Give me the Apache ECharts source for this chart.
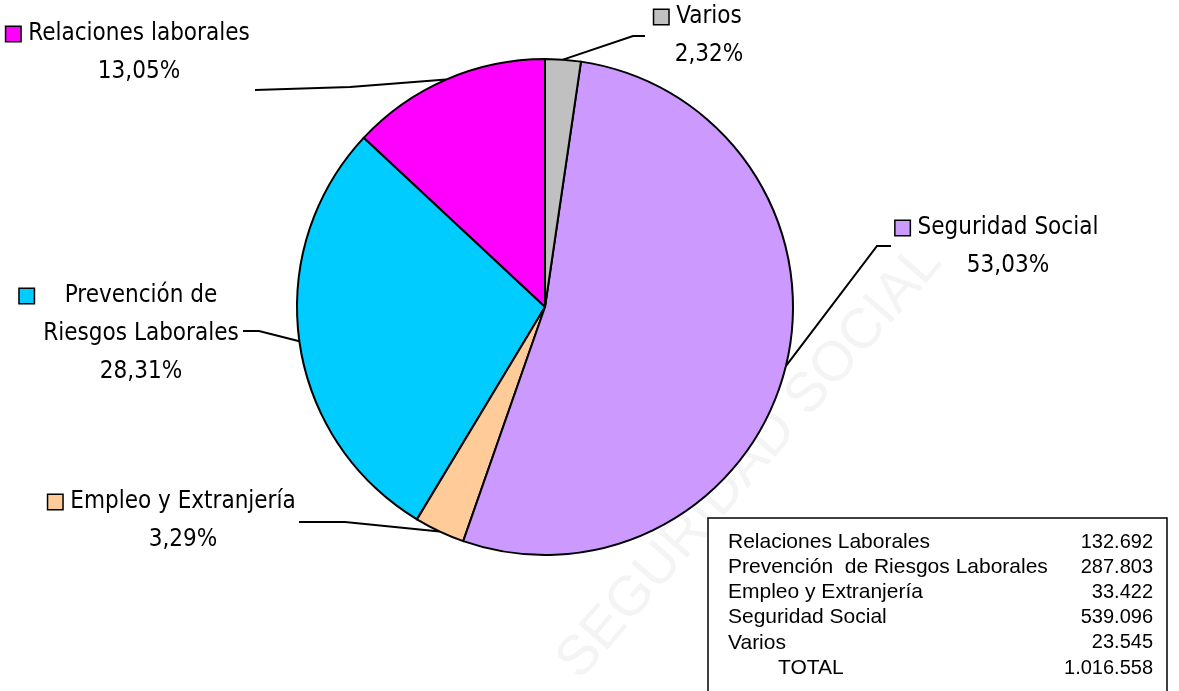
<!DOCTYPE html>
<html>
<head>
<meta charset="utf-8">
<script src="https://cdn.jsdelivr.net/npm/echarts@6/dist/echarts.min.js"></script>
<style>
  html, body { margin: 0; padding: 0; background: #fff; }
  #chart { width: 1179px; height: 691px; }
</style>
</head>
<body>
<div id="chart"></div>
<script>
// datos (orden de la tabla)
var tableNames = ['Relaciones Laborales', 'Prevención  de Riesgos Laborales', 'Empleo y Extranjería', 'Seguridad Social', 'Varios'];
var labelNames = ['Relaciones laborales', 'Prevención de\nRiesgos Laborales', 'Empleo y Extranjería', 'Seguridad Social', 'Varios'];
var values = [132692, 287803, 33422, 539096, 23545];
var colors = ['#FF00FF', '#00CCFF', '#FFCC99', '#CC99FF', '#C0C0C0'];

// posicion de cada etiqueta: centro del bloque, codo y final de la linea guia
var labelPos = [
    [128, 53, [350, 87], [255, 90]],
    [141, 334, [259, 331], [243, 331]],
    [172, 521, [345, 522], [299, 522]],
    [997, 247, [877, 246], [891, 246]],
    [698, 36, [633, 36], [645, 36]]
];

var total = values.reduce(function (a, b) { return a + b; }, 0);

function fmtNum(n) {
    return String(n).replace(/\B(?=(\d{3})+(?!\d))/g, '.');
}
function fmtPct(v) {
    return (v / total * 100).toFixed(2).replace('.', ',') + '%';
}

var narrow = '"Liberation Sans Narrow", "Arial Narrow", "DejaVu Sans Condensed", sans-serif';

var rich = {
    n: { fontFamily: narrow, fontSize: 24, color: '#000', lineHeight: 38 },
    p: { fontFamily: narrow, fontSize: 24, color: '#000', lineHeight: 38 },
    g: { width: 8, lineHeight: 38 },
    s: { width: 22, lineHeight: 38 },
    gw: { width: 31, lineHeight: 38 },
    sw: { width: 45, lineHeight: 38 }
};
colors.forEach(function (c, i) {
    rich['sq' + i] = { width: 14, height: 14, backgroundColor: c, borderColor: '#000', borderWidth: 1.5, lineHeight: 38 };
});

var chart = echarts.init(document.getElementById('chart'));

// tabla de valores abajo a la derecha
var nameFont = '21px "Liberation Sans", Arial, sans-serif';
var numFont = '20px "Liberation Sans", Arial, sans-serif';
var tableEls = [{
    type: 'rect',
    shape: { x: 708, y: 518, width: 459, height: 200 },
    style: { fill: '#fff', stroke: '#000', lineWidth: 1.5 },
    z: 10
}];
var rowY = 542, rowH = 25.2;
tableNames.concat(['TOTAL']).forEach(function (name, i) {
    var v = i < values.length ? values[i] : total;
    tableEls.push({
        type: 'text', z: 11,
        style: { text: name, x: name === 'TOTAL' ? 778 : 728, y: rowY + i * rowH, font: nameFont, fill: '#000', textVerticalAlign: 'middle', textAlign: 'left' }
    });
    tableEls.push({
        type: 'text', z: 11,
        style: { text: fmtNum(v), x: 1153, y: rowY + i * rowH, font: numFont, fill: '#000', textVerticalAlign: 'middle', textAlign: 'right' }
    });
});

var option = {
    backgroundColor: '#fff',
    animation: false,
    graphic: [{
        type: 'text',
        x: 750, y: 462,
        rotation: 49 * Math.PI / 180,
        z: -10,
        style: { text: 'SEGURIDAD SOCIAL', font: '56px "Liberation Sans", Arial, sans-serif', fill: '#f4f4f4', textAlign: 'center', textVerticalAlign: 'middle' }
    }].concat(tableEls),
    series: [{
        type: 'pie',
        center: [545, 307],
        radius: 248,
        startAngle: 90,
        clockwise: false,
        avoidLabelOverlap: false,
        itemStyle: { borderColor: '#000', borderWidth: 2 },
        emphasis: { disabled: true },
        label: {
            show: true,
            position: 'outside',
            align: 'center',
            rich: rich,
            formatter: function (p) {
                var i = p.dataIndex;
                if (i === 1) {
                    return '{sq1|}{gw|}{n|Prevención de}{sw|}\n{n|Riesgos Laborales}\n{p|' + fmtPct(p.value) + '}';
                }
                return '{sq' + i + '|}{g|}{n|' + labelNames[i] + '}\n{s|}{p|' + fmtPct(p.value) + '}';
            }
        },
        labelLine: { show: true, lineStyle: { color: '#000', width: 2 } },
        labelLayout: function (p) {
            var pos = labelPos[p.dataIndex];
            var e = p.labelLinePoints ? p.labelLinePoints[0] : null;
            var out = { x: pos[0], y: pos[1], align: 'center', verticalAlign: 'middle' };
            if (e) out.labelLinePoints = [e, pos[2], pos[3]];
            return out;
        },
        data: values.map(function (v, i) {
            return { name: tableNames[i], value: v, itemStyle: { color: colors[i] } };
        })
    }]
};

chart.setOption(option);
</script>
</body>
</html>
